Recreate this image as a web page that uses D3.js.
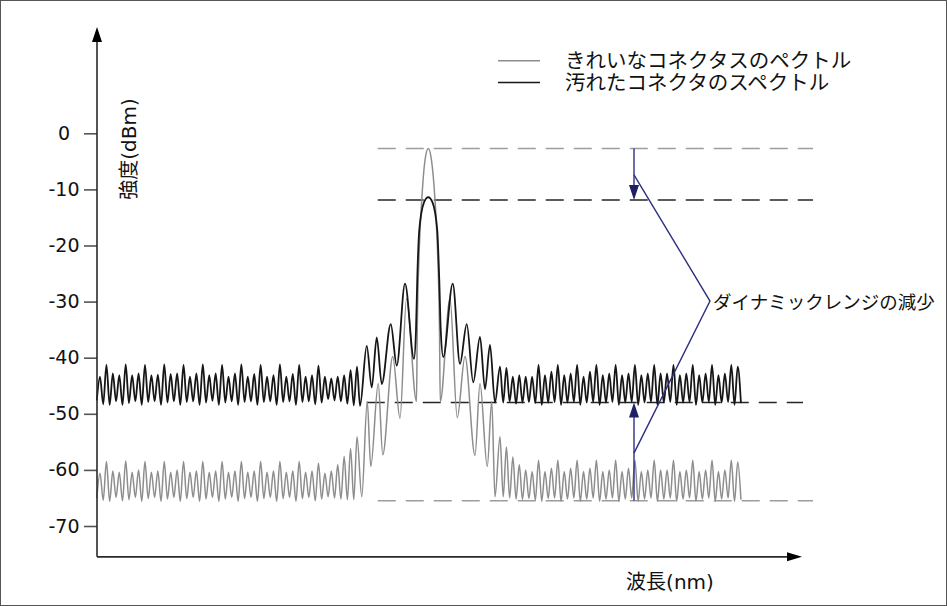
<!DOCTYPE html>
<html>
<head>
<meta charset="utf-8">
<script src="https://cdn.jsdelivr.net/npm/d3@7"></script>
<style>
  html, body { margin: 0; padding: 0; background: #fff; }
  svg { display: block; }
</style>
</head>
<body>
<svg id="chart" width="947" height="606"></svg>
<script>
// ---------------- data: wavelength in nm, level in dBm ----------------
const yTicks = [0, -10, -20, -30, -40, -50, -60, -70];
const seriesNames = ["きれいなコネクタスのペクトル", "汚れたコネクタのスペクトル"];
const axisTitles = { y: "強度(dBm)", x: "波長(nm)" };
const annotationText = "ダイナミックレンジの減少";

// ripple grid of the out-of-band noise
const rippleStep = 0.257;
const leftRippleStart = 1536.87;
const rightRippleStart = 1552.87;

// dirty connector: ripple maxima / minima left of the main lobe
const dirtyLeftPeaks = [-43.4, -41.3, -42.8, -43.1, -41.2, -43.1, -42.8, -41.3, -43.1, -43.0,
  -41.2, -42.9, -42.8, -41.3, -43.4, -42.8, -41.2, -43.1, -42.8, -41.3,
  -43.4, -42.8, -41.2, -43.4, -42.9, -41.3, -43.4, -43.1, -41.2, -43.4,
  -42.9, -41.3, -43.4, -43.1, -41.4, -43.4, -43.7, -43.4, -43.1, -42.2, -41.6];
const dirtyLeftTroughs = [-47.6, -48.3, -48.4, -47.8, -48.4, -48.1, -47.8, -48.4, -47.9, -47.8,
  -48.4, -48.0, -47.8, -48.4, -47.9, -47.8, -48.4, -48.0, -47.7, -48.4,
  -48.0, -47.8, -48.4, -47.9, -47.8, -48.4, -47.9, -47.8, -48.4, -47.9,
  -47.8, -48.4, -47.9, -47.8, -48.3, -48.0, -47.4, -47.6, -47.8, -48.2, -48.5];

// clean connector: ripple maxima / minima left of the main lobe
const cleanLeftPeaks = [-60.6, -58.5, -60.2, -60.4, -58.4, -60.4, -60.0, -58.5, -60.4, -60.2,
  -58.5, -60.4, -60.0, -58.5, -60.4, -60.2, -58.5, -60.4, -60.2, -58.5,
  -60.4, -60.2, -58.5, -60.4, -60.2, -58.5, -60.4, -60.2, -58.5, -60.4,
  -60.2, -58.5, -60.4, -60.2, -58.8, -60.6, -60.2, -59.1, -57.6, -56.2, -54.1];
const cleanLeftTroughs = [-65.0, -65.4, -65.6, -64.9, -65.5, -65.3, -64.9, -65.6, -65.1, -64.9,
  -65.6, -65.2, -64.9, -65.6, -65.1, -64.9, -65.6, -65.2, -64.9, -65.6,
  -65.2, -64.9, -65.6, -65.1, -64.9, -65.6, -65.1, -64.9, -65.6, -65.1,
  -64.9, -65.6, -65.1, -64.9, -65.5, -65.2, -64.8, -65.0, -65.2, -65.3, -65.3];

// main lobe and side lobes [wavelength, level]
const dirtyLobes = [
  [1547.27, -48.6], [1547.54, -37.9], [1547.74, -45.3], [1547.94, -36.4], [1548.14, -44.7],
  [1548.50, -34.0], [1548.74, -41.4], [1549.07, -26.8], [1549.43, -40.2], [1549.51, -35.1],
  [1549.56, -26.1], [1549.64, -17.3], [1549.83, -12.3], [1550.00, -11.4], [1550.17, -12.3],
  [1550.36, -17.3], [1550.44, -26.1], [1550.50, -35.1], [1550.60, -39.9], [1550.98, -26.8],
  [1551.27, -41.1], [1551.54, -34.0], [1551.80, -44.4], [1552.07, -36.3], [1552.27, -45.6],
  [1552.47, -37.7], [1552.67, -48.0]
];
const cleanLobes = [
  [1547.34, -64.8], [1547.56, -47.8], [1547.70, -59.4], [1548.00, -44.6], [1548.18, -57.3],
  [1548.58, -39.8], [1548.87, -50.8], [1549.13, -29.5], [1549.53, -47.8], [1549.56, -35.1],
  [1549.64, -20.8], [1549.74, -11.9], [1549.87, -4.8], [1550.00, -2.7], [1550.13, -4.8],
  [1550.27, -11.9], [1550.37, -20.8], [1550.45, -35.1], [1550.48, -47.8], [1550.87, -29.5],
  [1551.16, -50.7], [1551.47, -39.8], [1551.87, -57.4], [1552.07, -44.6], [1552.36, -59.4],
  [1552.54, -47.8], [1552.67, -64.8]
];

// ripple maxima / minima right of the main lobe
const dirtyRightPeaks = [-41.6, -41.8, -43.4, -43.1, -43.4, -43.4, -41.3, -43.1, -42.5, -41.3,
  -43.1, -42.8, -41.3, -43.4, -42.5, -41.3, -43.1, -42.8, -41.3, -43.1,
  -42.8, -41.3, -43.1, -42.8, -41.3, -42.8, -42.8, -41.3, -43.1, -42.8,
  -41.3, -43.1, -42.8, -41.3, -43.1, -42.8, -41.3, -41.6];
const dirtyRightTroughs = [-48.0, -47.8, -48.2, -48.0, -47.9, -48.1, -48.4, -48.0, -47.9, -48.4,
  -48.0, -47.9, -48.4, -48.0, -47.9, -48.4, -48.0, -47.9, -48.4, -48.0,
  -47.9, -48.4, -48.0, -47.9, -48.4, -48.0, -47.9, -48.4, -48.0, -47.9,
  -48.4, -48.0, -47.9, -48.4, -48.0, -47.9, -48.4, -48.1];
const cleanRightPeaks = [-54.1, -55.9, -57.7, -59.1, -60.0, -60.3, -58.3, -60.3, -59.7, -58.3,
  -60.3, -59.7, -58.3, -60.3, -59.7, -58.3, -60.3, -60.0, -58.3, -60.3,
  -59.7, -58.3, -60.3, -60.0, -58.3, -60.0, -60.0, -58.3, -60.3, -60.0,
  -58.3, -60.3, -60.0, -58.3, -60.3, -60.0, -58.3, -58.6];
const cleanRightTroughs = [-64.8, -65.0, -65.2, -65.3, -65.1, -65.4, -65.6, -65.1, -65.0, -65.6,
  -65.2, -65.0, -65.6, -65.2, -65.0, -65.6, -65.2, -65.0, -65.6, -65.2,
  -65.0, -65.6, -65.2, -65.0, -65.6, -65.2, -65.0, -65.6, -65.2, -65.0,
  -65.6, -65.2, -65.0, -65.6, -65.2, -65.0, -65.6, -65.3];

// reference levels drawn as dashed lines
const referenceLevels = [
  { level: -2.7,  from: 1547.98, to: 1565.39, tone: "clean" },
  { level: -11.9, from: 1547.98, to: 1565.39, tone: "dirty" },
  { level: -48.0, from: 1547.54, to: 1564.99, tone: "dirty" },
  { level: -65.5, from: 1547.98, to: 1565.39, tone: "clean" }
];
// dynamic-range markers
const rangeWavelength = 1558.23;
const rangeJoins = { top: -7.4, bottom: -57.0 };
const rangeLabelAt = [1561.27, -29.9];

// ---------------- layout ----------------
const svg = d3.select("#chart");
const x = d3.scaleLinear().domain([1536.75, 1564.95]).range([97, 802]);
const y = d3.scaleLinear().domain([0, -70]).range([133.3, 526]);
const axisFloor = y(-75.5);
const axisTop = 27;

const colors = { clean: "#8d8d8d", dirty: "#161616", cleanDash: "#9c9c9c", dirtyDash: "#262626",
                 axis: "#2a2a2a", note: "#2c3080", noteHead: "#1d2066" };
const latinFont = "'DejaVu Sans', 'Noto Sans CJK JP', sans-serif";
const cjkFont = "'Noto Sans CJK JP', 'DejaVu Sans', sans-serif";

// frame
svg.append("rect").attr("x", 0.5).attr("y", 0.5).attr("width", 946).attr("height", 605)
  .attr("fill", "none").attr("stroke", "#555").attr("stroke-width", 1);

// build a series from ripple extrema and lobe points
function buildSeries(leftPeaks, leftTroughs, lobes, rightPeaks, rightTroughs) {
  const pts = [];
  leftPeaks.forEach((p, i) => {
    const w = leftRippleStart + i * rippleStep;
    pts.push([w - rippleStep / 2, leftTroughs[i]]);
    pts.push([w, p]);
  });
  lobes.forEach(d => pts.push(d));
  rightPeaks.forEach((p, i) => {
    const w = rightRippleStart + i * rippleStep;
    pts.push([w, p]);
    pts.push([w + rippleStep / 2, rightTroughs[i]]);
  });
  return pts;
}
const cleanSeries = buildSeries(cleanLeftPeaks, cleanLeftTroughs, cleanLobes, cleanRightPeaks, cleanRightTroughs);
const dirtySeries = buildSeries(dirtyLeftPeaks, dirtyLeftTroughs, dirtyLobes, dirtyRightPeaks, dirtyRightTroughs);

// dashed reference levels
svg.append("g").selectAll("line").data(referenceLevels).join("line")
  .attr("x1", d => x(d.from)).attr("x2", d => x(d.to))
  .attr("y1", d => y(d.level)).attr("y2", d => y(d.level))
  .attr("stroke", d => d.tone === "clean" ? colors.cleanDash : colors.dirtyDash)
  .attr("stroke-width", 1.5)
  .attr("stroke-dasharray", "18,10");

// spectra
const line = d3.line().x(d => x(d[0])).y(d => y(d[1])).curve(d3.curveMonotoneX);
svg.append("path").datum(cleanSeries).attr("d", line)
  .attr("fill", "none").attr("stroke", colors.clean).attr("stroke-width", 1.5);
svg.append("path").datum(dirtySeries).attr("d", line)
  .attr("fill", "none").attr("stroke", colors.dirty).attr("stroke-width", 1.8);

// y axis ticks and labels
const yAxis = svg.append("g").attr("transform", `translate(${x(1536.75)},0)`)
  .call(d3.axisLeft(y).tickValues(yTicks).tickSize(13).tickFormat(d => String(d)));
yAxis.select(".domain").remove();
yAxis.selectAll(".tick line").attr("stroke", "#555").attr("stroke-width", 1.6);
yAxis.selectAll(".tick text")
  .attr("x", -33).attr("text-anchor", "middle")
  .attr("font-family", latinFont).attr("font-size", 19).attr("fill", "#111");

// axis lines with arrowheads
const x0 = x(1536.75);
svg.append("line").attr("x1", x0).attr("x2", x0).attr("y1", axisFloor).attr("y2", axisTop + 10)
  .attr("stroke", colors.axis).attr("stroke-width", 1.6);
svg.append("path").attr("d", `M${x0},${axisTop} L${x0 - 5},${axisTop + 15} L${x0 + 5},${axisTop + 15} Z`)
  .attr("fill", "#000");
const xEnd = x(1564.95);
svg.append("line").attr("x1", x0).attr("x2", xEnd - 10).attr("y1", axisFloor).attr("y2", axisFloor)
  .attr("stroke", colors.axis).attr("stroke-width", 1.6);
svg.append("path").attr("d", `M${xEnd},${axisFloor} L${xEnd - 15},${axisFloor - 4.5} L${xEnd - 15},${axisFloor + 4.5} Z`)
  .attr("fill", "#000");

// axis titles
svg.append("text").attr("transform", "translate(128.5,149) rotate(-90)")
  .attr("text-anchor", "middle").attr("dominant-baseline", "central")
  .attr("font-family", latinFont).attr("font-size", 20).attr("fill", "#111")
  .text(axisTitles.y);
svg.append("text").attr("x", 670).attr("y", 582)
  .attr("text-anchor", "middle").attr("dominant-baseline", "central")
  .attr("font-family", latinFont).attr("font-size", 20).attr("fill", "#111")
  .text(axisTitles.x);

// legend: sample lines plus one text block with a row per series
const legendRows = [
  { name: seriesNames[0], color: colors.clean, w: 1.5 },
  { name: seriesNames[1], color: colors.dirty, w: 1.6 }
];
const legendTop = 60.7, legendGap = 21.8;
const legend = svg.append("g");
legend.selectAll("line").data(legendRows).join("line")
  .attr("x1", 498).attr("x2", 540)
  .attr("y1", (d, i) => legendTop + i * legendGap).attr("y2", (d, i) => legendTop + i * legendGap)
  .attr("stroke", d => d.color).attr("stroke-width", d => d.w);
const legendText = legend.append("text")
  .attr("font-family", cjkFont).attr("font-size", 20.5).attr("fill", "#111");
legendText.selectAll("tspan").data(legendRows).join("tspan")
  .attr("x", 565).attr("y", (d, i) => legendTop + i * legendGap + 7.2)
  .text(d => d.name);

// dynamic range reduction markers
const ax = x(rangeWavelength);
const note = svg.append("g");
function rangeArrow(fromLevel, toLevel) {
  const y0 = y(fromLevel), y1 = y(toLevel);
  const dir = Math.sign(y1 - y0);
  note.append("line").attr("x1", ax).attr("x2", ax).attr("y1", y0).attr("y2", y1 - dir * 14)
    .attr("stroke", colors.note).attr("stroke-width", 1.4);
  note.append("path")
    .attr("d", `M${ax},${y1} L${ax - 5},${y1 - dir * 15} L${ax + 5},${y1 - dir * 15} Z`)
    .attr("fill", colors.noteHead);
}
rangeArrow(-2.7, -11.9);
rangeArrow(-65.5, -48.0);
note.append("path")
  .attr("d", `M${ax},${y(rangeJoins.top)} L${x(rangeLabelAt[0])},${y(rangeLabelAt[1])} L${ax},${y(rangeJoins.bottom)}`)
  .attr("fill", "none").attr("stroke", colors.note).attr("stroke-width", 1.4);
note.append("text").attr("x", x(rangeLabelAt[0]) + 3).attr("y", y(rangeLabelAt[1]))
  .attr("dominant-baseline", "central")
  .attr("font-family", cjkFont).attr("font-size", 18.5).attr("fill", "#111")
  .text(annotationText);
</script>
</body>
</html>
